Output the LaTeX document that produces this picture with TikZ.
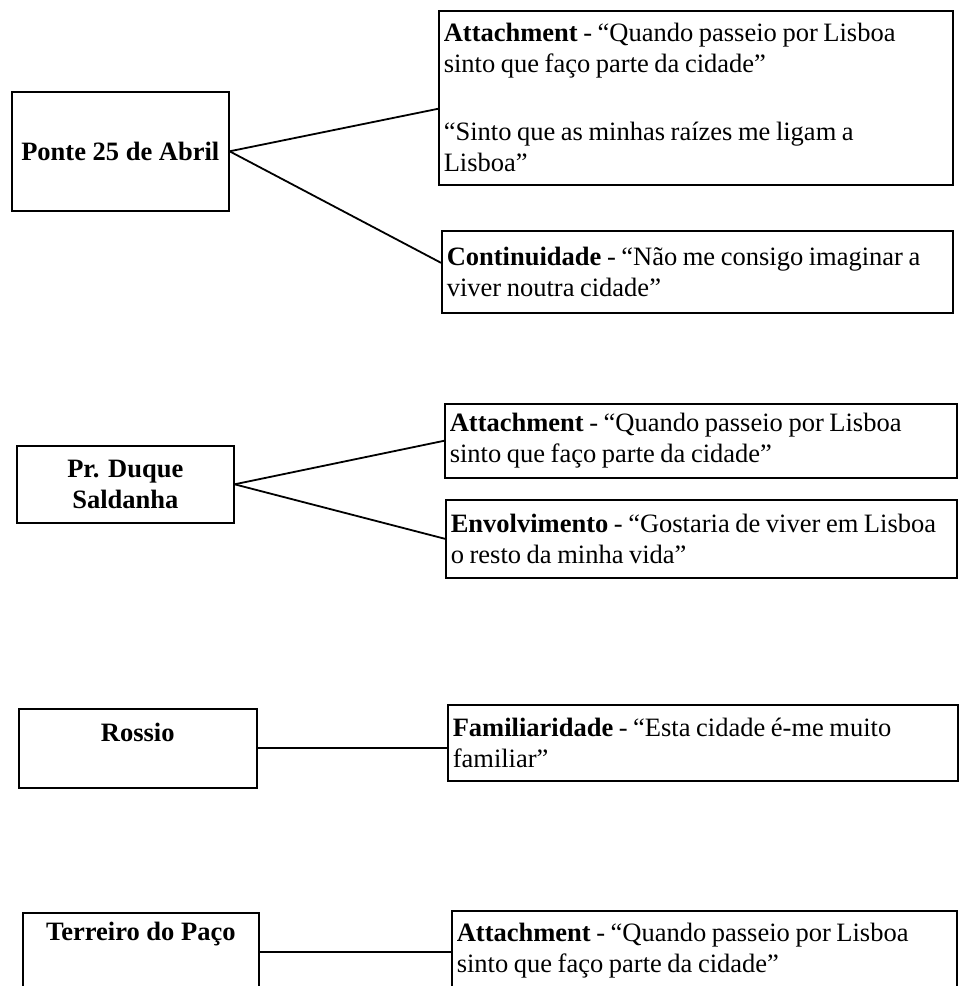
\documentclass[tikz,border=0pt]{standalone}
\usepackage{fontspec}
\setmainfont{Liberation Serif}
\begin{document}
\begin{tikzpicture}[x=1pt,y=-1pt,
  txt/.style={font=\fontsize{26.5}{31}\selectfont},
  placebox/.style={txt, draw, line width=1.6pt, anchor=north west, inner sep=0pt, align=center},
  quotebox/.style={txt, draw, line width=1.6pt, anchor=north west, align=left, inner xsep=5pt, inner ysep=0pt,
    execute at begin node={\hyphenpenalty=10000\exhyphenpenalty=10000\spaceskip=0.21em plus 0.1em minus 0.05em\relax}},
  toplabel/.style={txt, inner sep=0pt, anchor=north},
  link/.style={line width=1.8pt}
  ]
\useasboundingbox (0,0) rectangle (959,986);

% left boxes
\node[placebox, minimum width=217pt, minimum height=119pt] (p1) at (11,91) {\textbf{Ponte 25 de Abril}};
\node[placebox, minimum width=217pt, minimum height=77pt] (s2) at (16,445) {\textbf{Pr. Duque}\\\textbf{Saldanha}};
\node[placebox, minimum width=238pt, minimum height=79pt,
  label={[toplabel, yshift=-15pt]north:{\textbf{Rossio}}}] (r) at (18,708) {};
\node[placebox, minimum width=236pt, minimum height=78pt,
  label={[toplabel, yshift=-10pt]north:{\textbf{Terreiro do Paço}}}] (t) at (22,912) {};

% right boxes
\node[quotebox, text width=504pt, minimum height=174pt] (a1) at (438,10)
  {\textbf{Attachment} - “Quando passeio por Lisboa\\sinto que faço parte da cidade”\\[37pt]“Sinto que as minhas raízes me ligam a\\Lisboa”};
\node[quotebox, text width=501pt, minimum height=82pt] (c1) at (441,230)
  {\textbf{Continuidade} - “Não me consigo imaginar a\\viver noutra cidade”};
\node[quotebox, text width=502pt, minimum height=74pt] (a2) at (444,403)
  {\textbf{Attachment} - “Quando passeio por Lisboa\\sinto que faço parte da cidade”};
\node[quotebox, text width=501pt, minimum height=78pt] (e2) at (445,499)
  {\textbf{Envolvimento} - “Gostaria de viver em Lisboa\\o resto da minha vida”};
\node[quotebox, text width=500pt, minimum height=76pt] (f) at (447,704)
  {\textbf{Familiaridade} - “Esta cidade é-me muito\\familiar”};
\node[quotebox, text width=495pt, minimum height=80pt] (tq) at (451,910)
  {\textbf{Attachment} - “Quando passeio por Lisboa\\sinto que faço parte da cidade”};

% connectors
\draw[link] (p1.east) -- ([yshift=-11pt]a1.west);
\draw[link] (p1.east) -- ([yshift=9pt]c1.west);
\draw[link] (s2.east) -- (a2.west);
\draw[link] (s2.east) -- (e2.west);
\draw[link] (r.east) -- (r.east -| f.west);
\draw[link] (t.east) -- (t.east -| tq.west);
\end{tikzpicture}
\end{document}
